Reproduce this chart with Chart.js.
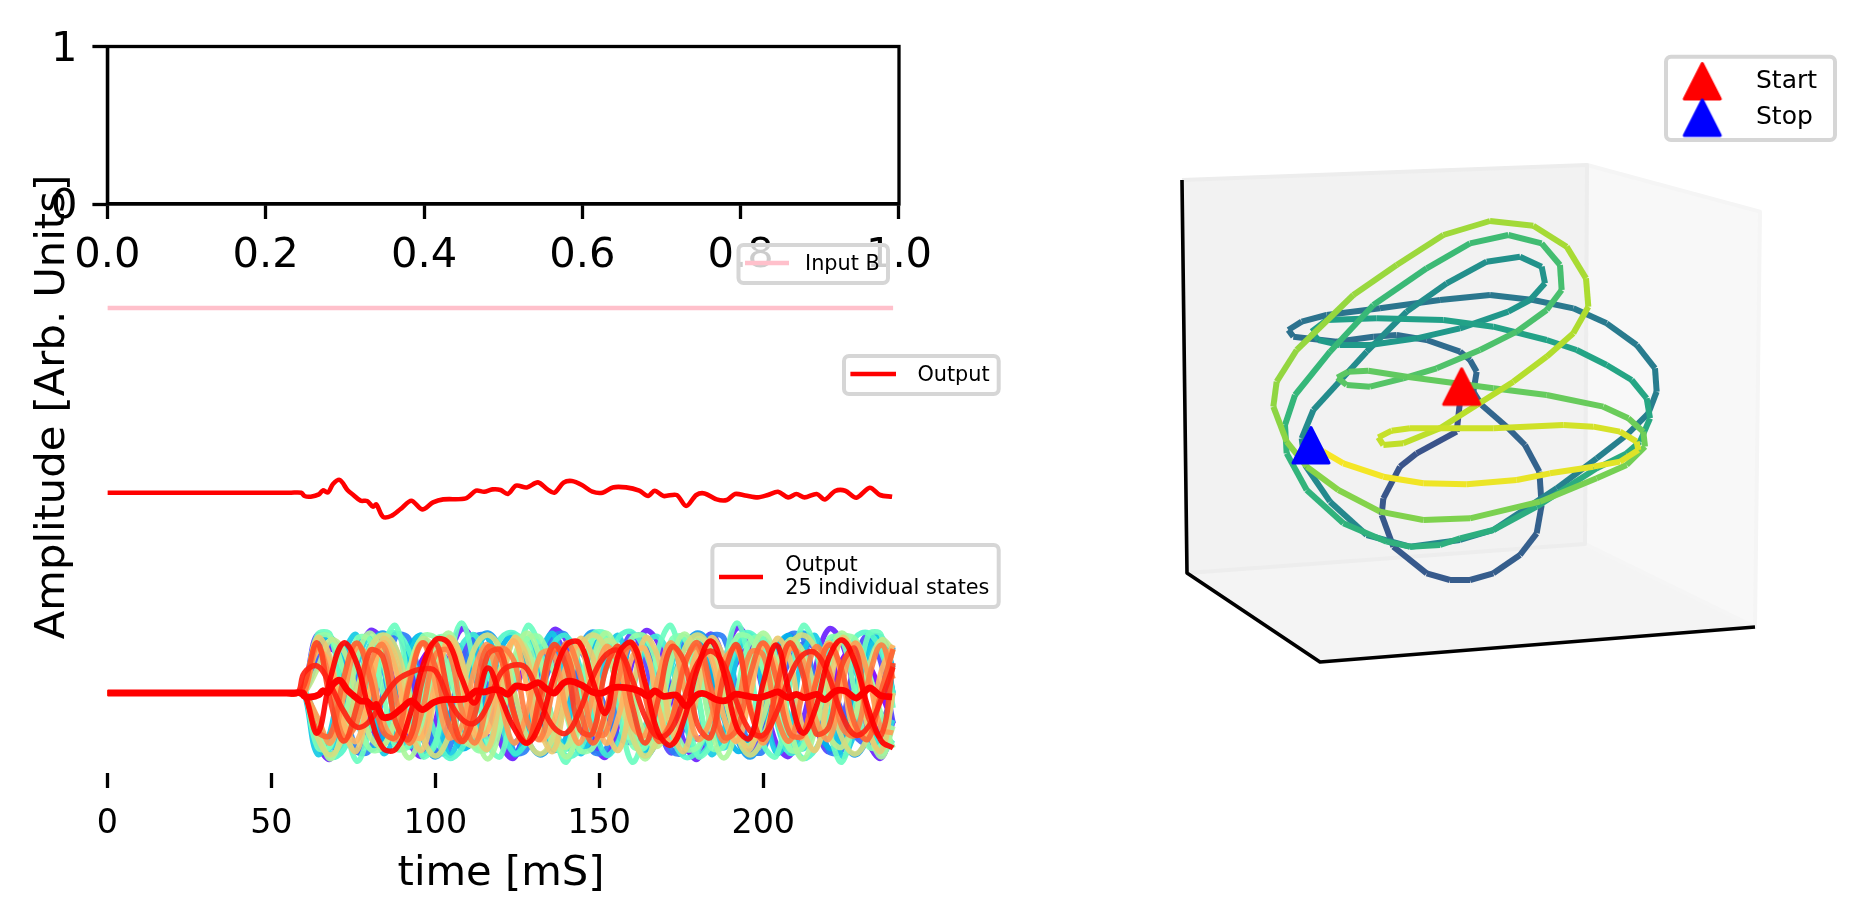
<!DOCTYPE html>
<html>
<head>
<meta charset="utf-8">
<script src="https://cdn.jsdelivr.net/npm/chart.js@4"></script>
<style>
  html, body { margin: 0; background: #fff; }
  canvas { position: absolute; left: 0; top: 0; }
</style>
</head>
<body>
<canvas id="emptyAxes" width="1876" height="924"></canvas>
<canvas id="inputPanel" width="1876" height="924"></canvas>
<canvas id="outputPanel" width="1876" height="924"></canvas>
<canvas id="statesPanel" width="1876" height="924"></canvas>
<canvas id="trajPanel" width="1876" height="924"></canvas>
<script>
// ---- data ----
const inputTime = [0, 239.6];
const inputValues = [0, 0];

const outputTime = [0, 56, 59.1, 60.1, 62, 64.5, 65.7, 67.3, 68.8, 70.9, 73.2, 75, 77.2, 79.2, 81, 82, 84, 86.5, 89.4, 92.7, 96, 99.3, 102.4, 109.3, 112.4, 114.9, 117.4, 119.9, 122.1, 124.6, 127.9, 131.3, 134.2, 136.3, 139.1, 141.6, 144.7, 147.9, 151, 154.1, 158.2, 162.2, 164.9, 166.9, 169.6, 173.6, 176.5, 179.6, 182.1, 185.8, 188.9, 191.4, 194.5, 198.3, 201.4, 204.5, 207.6, 210.1, 212.6, 216.3, 218.8, 221.9, 225, 228.4, 232.5, 235.6, 239.3];
const outputValues = [0, 0, 0, -3.3, -4, -1.7, 2.3, 0.3, 8.7, 12.7, 2.7, -2.3, -8, -8.3, -14, -11.7, -24, -23.3, -16.3, -8, -16.7, -9.7, -6.7, -5.7, 2, 1, 3.3, 2.7, -1.3, 7, 5.3, 10.3, 3.3, 0, 10, 11.7, 7.7, 1, 0, 5.3, 5.3, 2, -3.3, 2, -3.3, -2.3, -13.3, -2.3, -0.7, -6.7, -7.3, -1.3, -2.7, -4.7, -2.3, 1, -4.7, -1.3, -4.7, -1.3, -6.7, 1.7, 2, -5, 5, -2.3, -4];

const stateLead = [0, 54, 58];
const stateTime = [60, 64, 68, 72, 76, 80, 84, 88, 92, 96, 100, 104, 108, 112, 116, 120, 124, 128, 132, 136, 140, 144, 148, 152, 156, 160, 164, 168, 172, 176, 180, 184, 188, 192, 196, 200, 204, 208, 212, 216, 220, 224, 228, 232, 236, 239.6];
const state01 = [0, 30, 44, 31, 2, -32, -46, -30, -2, 33, 45, 30, -1, -31, -44, -32, 1, 30, 46, 33, 3, -30, -45, -33, 0, 32, 43, 30, -2, -33, -46, -31, 2, 31, 45, 32, 1, -30, -44, -32, -1, 33, 46, 30, 0, -31];
const state02 = [0, -50, -66, -28, 27, 62, 51, -1, -49, -63, -29, 29, 64, 49, 2, -51, -65, -26, 27, 63, 52, 0, -48, -64, -28, 30, 62, 50, -2, -50, -66, -27, 28, 65, 49, 1, -51, -63, -29, 26, 64, 50, 0, -49, -65, -28];
const state03 = [5, 58, 30, -30, -59, -31, 29, 59, 31, -28, -60, -30, 30, 58, 29, -31, -61, -29, 31, 58, 30, -30, -58, -31, 28, 59, 32, -29, -60, -30, 30, 59, 31, -30, -61, -28, 29, 58, 30, -31, -59, -30, 31, 58, 29, -30];
const state04 = [0, 32, 49, 43, 17, -17, -44, -49, -32, 1, 31, 50, 44, 16, -18, -43, -50, -31, -1, 33, 48, 43, 18, -16, -44, -49, -33, 0, 32, 50, 42, 17, -17, -45, -48, -32, 2, 31, 49, 44, 16, -18, -43, -50, -31, 0];
const state05 = [0, 56, 55, 1, -58, -57, -1, 57, 54, 0, -57, -58, 2, 55, 56, -1, -59, -56, 0, 56, 57, 1, -58, -57, 0, 54, 56, -2, -57, -59, 1, 56, 55, 0, -56, -58, -1, 57, 56, 2, -58, -57, 0, 55, 54, -1];
const state06 = [0, -45, -63, -44, -1, 45, 60, 44, 2, -44, -64, -45, 0, 46, 60, 43, -1, -45, -62, -46, 1, 44, 61, 45, 0, -43, -63, -44, 2, 45, 60, 46, -1, -46, -64, -44, 0, 43, 60, 45, 1, -45, -62, -43, 0, 46];
const state07 = [0, 45, 56, 25, -25, -56, -45, 1, 46, 57, 24, -26, -55, -46, -1, 44, 58, 26, -24, -57, -44, 0, 45, 55, 25, -25, -56, -47, 2, 46, 56, 24, -26, -58, -45, 0, 44, 57, 26, -25, -55, -46, 1, 45, 56, 25];
const state08 = [0, -61, -38, 37, 58, 1, -60, -39, 38, 57, -1, -62, -37, 39, 56, 0, -61, -38, 38, 59, 2, -60, -37, 37, 57, 0, -62, -39, 38, 56, -1, -61, -38, 36, 58, 1, -60, -38, 39, 57, 0, -63, -37, 38, 56, 0];
const state09 = [3, -28, -55, -27, 28, 55, 27, -28, -54, -29, 27, 56, 28, -27, -55, -26, 29, 54, 27, -29, -56, -28, 28, 55, 26, -27, -54, -28, 27, 56, 29, -28, -55, -27, 28, 54, 27, -26, -56, -29, 28, 55, 27, -28, -54, -27];
const state10 = [0, -27, -60, -48, 0, 48, 57, 27, -27, -61, -49, 1, 47, 58, 26, -28, -60, -48, -1, 49, 57, 27, -26, -62, -47, 0, 48, 56, 28, -27, -61, -49, 2, 47, 58, 27, -28, -60, -48, 0, 49, 57, 26, -27, -60, -47];
const state11 = [0, -42, -64, -57, -22, 22, 54, 60, 42, 1, -41, -65, -56, -23, 21, 55, 60, 43, -1, -43, -63, -57, -22, 23, 56, 61, 41, 0, -42, -64, -58, -21, 22, 54, 60, 42, 2, -41, -65, -56, -23, 22, 55, 60, 41, 0];
const state12 = [0, 58, 58, -15, -68, -35, 44, 67, 5, -63, -51, 25, 70, 25, -51, -63, 5, 67, 44, -35, -69, -15, 58, 58, -15, -69, -35, 44, 67, 5, -63, -51, 25, 70, 25, -51, -63, 5, 67, 44, -35, -69, -15, 58, 58, -15];
const state13 = [4, -54, -53, 0, 54, 53, 1, -55, -52, -1, 53, 54, 0, -53, -54, 2, 55, 52, -1, -54, -55, 0, 54, 53, 1, -52, -54, -2, 53, 55, 0, -54, -53, 1, 52, 54, -1, -55, -54, 0, 54, 53, 0, -53, -52, 1];
const state14 = [3, 55, 56, 22, -23, -56, -54, -24, 22, 56, 55, 23, -22, -55, -56, -23, 24, 54, 55, 22, -23, -57, -55, -22, 23, 55, 56, 24, -24, -55, -54, -23, 22, 56, 55, 23, -23, -56, -55, -24, 23, 55, 54, 22, -22, -55];
const state15 = [0, -33, -66, -33, 33, 60, 33, -32, -65, -34, 33, 60, 32, -33, -66, -32, 34, 60, 33, -34, -64, -33, 32, 60, 34, -33, -66, -32, 33, 59, 32, -34, -65, -33, 33, 60, 33, -32, -66, -34, 32, 60, 33, -33, -64, -33];
const state16 = [0, 24, 53, 43, 0, -43, -53, -24, 24, 54, 42, 1, -44, -52, -23, 25, 53, 43, -1, -42, -54, -24, 23, 52, 44, 0, -43, -53, -25, 24, 54, 43, 2, -44, -52, -24, 25, 53, 42, 0, -43, -54, -23, 24, 53, 44];
const state17 = [0, -44, -62, -43, 1, 44, 58, 45, -1, -43, -63, -44, 0, 45, 58, 43, 2, -45, -61, -44, -1, 43, 58, 44, 0, -44, -63, -45, 1, 44, 58, 43, -2, -43, -62, -44, 0, 46, 58, 44, 1, -45, -61, -43, 0, 44];
const state18 = [0, 55, 35, -36, -58, 1, 54, 36, -35, -57, 0, 55, 34, -35, -56, -1, 55, 35, -37, -58, 2, 54, 36, -34, -57, 0, 55, 35, -36, -58, 1, 55, 34, -35, -56, -1, 54, 36, -35, -57, 0, 55, 35, -36, -58, 0];
const state19 = [0, 42, 28, -30, -48, 2, 50, 22, -38, -44, 10, 50, 14, -42, -38, 20, 52, 6, -46, -30, 28, 48, -4, -50, -22, 36, 44, -14, -50, -12, 42, 36, -24, -48, -2, 48, 26, -32, -44, 12, 50, 16, -40, -38, 22, 48];
const state20 = [0, -24, -50, -4, 46, 30, -28, -46, 12, 50, 10, -44, -34, 24, 48, -8, -50, -18, 38, 40, -18, -50, -2, 46, 28, -32, -42, 16, 50, 4, -46, -26, 32, 44, -12, -50, -10, 44, 34, -26, -46, 8, 50, 18, -36, -40];
const state21 = [0, 46, 10, -44, -30, 28, 48, -6, -50, -18, 38, 42, -16, -50, -8, 44, 32, -28, -46, 6, 50, 20, -38, -40, 16, 50, 8, -44, -28, 30, 46, -8, -48, -16, 40, 38, -22, -48, 0, 46, 24, -34, -42, 12, 48, 14];
const state22 = [0, -38, -42, 14, 50, 16, -38, -44, 8, 50, 26, -30, -48, 0, 46, 34, -22, -50, -10, 42, 40, -14, -50, -18, 36, 46, -4, -48, -28, 28, 50, 6, -44, -36, 18, 50, 14, -40, -42, 10, 48, 22, -32, -46, 2, 44];
const state23 = [8, 50, -8, -48, -14, 42, 36, -30, -46, 12, 50, -2, -48, -22, 38, 42, -20, -50, 0, 48, 26, -36, -40, 24, 46, -12, -50, -6, 46, 30, -32, -44, 18, 48, -16, -46, 4, 50, 20, -40, -34, 28, 44, -24, -42, 30];
const state24 = [20, 27, 8, -18, -34, -28, -6, 12, 20, 24, 22, -6, -26, -30, -12, 20, 28, 24, -8, -34, -40, -18, 16, 38, 42, 14, -24, -44, -36, -4, 30, 42, 28, -10, -38, -42, -20, 16, 38, 40, 16, -22, -42, -34, -6, 26];
const state25 = [0, -40, 15, 50, 30, -20, -55, -56, -25, 25, 53, 50, 15, -10, 25, -5, -35, -50, -30, 15, 48, 50, 12, -20, 40, 50, 10, -40, -52, -25, 25, 52, 20, -35, -45, 10, 48, 0, -40, -15, 35, 53, 30, -15, -48, -55];
const stateSeries = [state01, state02, state03, state04, state05, state06, state07, state08, state09, state10, state11, state12, state13, state14, state15, state16, state17, state18, state19, state20, state21, state22, state23, state24, state25];

const xTicksTop = [0, 0.2, 0.4, 0.6, 0.8, 1];
const yTicksTop = [0, 1];
const timeTicks = [0, 50, 100, 150, 200];

// projected 3d path, picture units
const trajX = [605, 590, 470, 420, 370, 365, 400, 500, 570, 630, 700, 780, 830, 845, 838, 795, 740, 665, 640, 650, 630, 600, 500, 410, 340, 230, 100, 85, 125, 200, 360, 540, 690, 820, 940, 1040, 1130, 1185, 1190, 1165, 1100, 1010, 890, 700, 600, 450, 320, 210, 135, 125, 160, 320, 440, 560, 680, 780, 845, 855, 810, 745, 600, 470, 330, 240, 175, 155, 200, 350, 550, 700, 860, 950, 1040, 1115, 1160, 1170, 1140, 1100, 1010, 830, 700, 600, 540, 450, 380, 250, 140, 80, 75, 105, 210, 340, 500, 630, 745, 845, 900, 905, 860, 770, 660, 530, 430, 330, 260, 232, 265, 325, 440, 700, 860, 1030, 1105, 1150, 1155, 1100, 1010, 840, 630, 490, 360, 235, 140, 80, 40, 50, 110, 280, 410, 550, 690, 820, 920, 978, 985, 940, 860, 760, 650, 540, 430, 370, 355, 395, 450, 700, 910, 1000, 1080, 1130, 1135, 1080, 1000, 870, 770, 620, 490, 370, 250, 190, 152];
const trajY = [545, 680, 745, 785, 880, 930, 1025, 1105, 1125, 1125, 1105, 1050, 985, 900, 800, 720, 665, 600, 560, 500, 465, 440, 405, 390, 395, 410, 395, 375, 350, 330, 310, 285, 270, 285, 310, 355, 420, 490, 560, 625, 690, 760, 850, 975, 1005, 1025, 990, 890, 780, 700, 615, 440, 320, 235, 170, 155, 185, 235, 285, 320, 370, 400, 420, 420, 405, 380, 345, 340, 345, 365, 405, 435, 480, 525, 580, 640, 710, 745, 790, 905, 975, 1000, 1020, 1025, 1010, 955, 855, 745, 660, 570, 440, 300, 190, 115, 90, 115, 180, 255, 315, 380, 435, 490, 520, 545, 540, 518, 500, 497, 515, 550, 570, 605, 640, 680, 725, 780, 820, 890, 940, 945, 920, 855, 785, 710, 605, 530, 435, 270, 180, 90, 48, 62, 125, 220, 305, 385, 455, 530, 600, 670, 715, 720, 697, 677, 670, 670, 660, 665, 680, 710, 735, 770, 785, 805, 825, 838, 835, 815, 775, 740, 720];
const startPoint = [605, 544];
const stopPoint = [153, 720];

// box of the 3d axes, same units
const wallLeftX = [-234, 981, 975, -219, -234];
const wallLeftY = [-75, -120, 1017, 1104, -75];
const wallRightX = [981, 1500, 1485, 975, 981];
const wallRightY = [-120, 20, 1266, 1017, -120];
const floorX = [-219, 180, 1485, 975, -219];
const floorY = [1104, 1371, 1266, 1017, 1104];
const axisLinesX = [-234, -219, 180, 1485];
const axisLinesY = [-75, 1104, 1371, 1266];

// ---- helpers ----
const FONT = '"DejaVu Sans"';
const viridisStops = ['#440154', '#482878', '#3e4a89', '#31688e', '#26828e', '#1f9e89', '#35b779', '#6ece58', '#b5de2b', '#fde725'];

function hex2rgb(h) { return [1, 3, 5].map(i => parseInt(h.substr(i, 2), 16)); }

function viridis(x) {
    const p = x * (viridisStops.length - 1);
    const i = Math.min(Math.floor(p), viridisStops.length - 2);
    const a = hex2rgb(viridisStops[i]), b = hex2rgb(viridisStops[i + 1]);
    const c = a.map((v, k) => Math.round(v + (b[k] - v) * (p - i)));
    return `rgb(${c[0]},${c[1]},${c[2]})`;
}

function rainbow(x, alpha) {
    const r = Math.min(1, Math.abs(2 * x - 0.5));
    const g = Math.sin(Math.PI * x);
    const b = Math.cos(Math.PI * x / 2);
    return `rgba(${Math.round(r * 255)},${Math.round(g * 255)},${Math.round(b * 255)},${alpha})`;
}

function xy(xs, ys) { return xs.map((x, i) => ({ x: x, y: ys[i] })); }

function triangleMarker(color) {
    const c = document.createElement('canvas');
    c.width = 44; c.height = 44;
    const g = c.getContext('2d');
    g.fillStyle = color; g.strokeStyle = color;
    g.lineWidth = 3; g.lineJoin = 'round';
    g.beginPath();
    g.moveTo(22, 4.5); g.lineTo(40, 40); g.lineTo(4, 40); g.closePath();
    g.fill(); g.stroke();
    return c;
}
const redMarker = triangleMarker('#ff0000');
const blueMarker = triangleMarker('#0000ff');

// legend box and loose figure texts, matplotlib places these by hand
const extras = {
    id: 'extras',
    afterDraw(chart, args, opts) {
        const ctx = chart.ctx;
        ctx.save();
        if (opts.frame) {
            const a = chart.chartArea;
            ctx.strokeStyle = '#000'; ctx.lineWidth = 3.3;
            ctx.strokeRect(a.left, a.top, a.right - a.left, a.bottom - a.top);
        }
        (opts.legends || []).forEach(l => {
            ctx.beginPath();
            ctx.roundRect(l.box[0], l.box[1], l.box[2] - l.box[0], l.box[3] - l.box[1], 5);
            ctx.fillStyle = 'rgba(255,255,255,0.8)'; ctx.fill();
            ctx.strokeStyle = '#d6d6d6'; ctx.lineWidth = 4; ctx.stroke();
            if (l.line) {
                ctx.beginPath();
                ctx.moveTo(l.line[0], l.line[2]); ctx.lineTo(l.line[1], l.line[2]);
                ctx.strokeStyle = l.color; ctx.lineWidth = 4.4; ctx.stroke();
            }
            (l.markers || []).forEach(m => ctx.drawImage(m[0], m[1] - 22, m[2] - 22));
            ctx.fillStyle = '#000'; ctx.font = `${l.size}px ${FONT}`;
            ctx.textAlign = 'left'; ctx.textBaseline = 'alphabetic';
            l.rows.forEach(r => ctx.fillText(r[0], r[1], r[2]));
        });
        (opts.texts || []).forEach(t => {
            ctx.save();
            ctx.translate(t.x, t.y); ctx.rotate(t.rot || 0);
            ctx.fillStyle = '#000'; ctx.font = `${t.size}px ${FONT}`;
            ctx.textAlign = 'center'; ctx.textBaseline = 'alphabetic';
            ctx.fillText(t.text, 0, 0);
            ctx.restore();
        });
        ctx.restore();
    }
};

// room kept for tick labels round the plot area, [left, bottom]
function panel(id, area, room, datasets, scales, extraOpts) {
    return new Chart(document.getElementById(id), {
        type: 'scatter',
        data: { datasets: datasets },
        options: {
            responsive: false, animation: false, devicePixelRatio: 1, events: [],
            layout: { padding: { left: area[0] - room[0], top: area[1], right: 1876 - area[2], bottom: 924 - area[3] - room[1] } },
            scales: scales,
            plugins: { legend: { display: false }, tooltip: { enabled: false }, extras: extraOpts || {} }
        },
        plugins: [extras]
    });
}

function hiddenY(min, max) { return { display: false, min: min, max: max }; }
function hiddenX() { return { display: false, min: 0, max: 241.4 }; }

function lineSet(xs, ys, color, width, tension, order) {
    return {
        data: xy(xs, ys), showLine: true, borderColor: color, borderWidth: width,
        pointRadius: 0, tension: tension, order: order, borderJoinStyle: 'round', fill: false
    };
}

// ---- top empty axes ----
panel('emptyAxes', [107.4, 46.5, 899, 204], [100, 90], [], {
    x: {
        min: 0, max: 1, afterFit: s => { s.height = 90; },
        afterBuildTicks: s => { s.ticks = xTicksTop.map(v => ({ value: v })); },
        border: { color: '#000', width: 3.3 },
        grid: { drawOnChartArea: false, tickLength: 15, tickWidth: 3.3, tickColor: '#000' },
        ticks: { color: '#000', padding: 12, maxRotation: 0, autoSkip: false, font: { family: FONT, size: 41.67 }, callback: v => v.toFixed(1) }
    },
    y: {
        min: 0, max: 1, afterFit: s => { s.width = 100; },
        afterBuildTicks: s => { s.ticks = yTicksTop.map(v => ({ value: v })); },
        border: { color: '#000', width: 3.3 },
        grid: { drawOnChartArea: false, tickLength: 15, tickWidth: 3.3, tickColor: '#000' },
        ticks: { color: '#000', padding: 15, labelOffset: 3.5, autoSkip: false, font: { family: FONT, size: 41.67 }, callback: v => String(v) }
    }
}, { frame: true });

// ---- input ----
panel('inputPanel', [107.4, 258, 899, 358], [0, 0], [lineSet(inputTime, inputValues, '#ffc0cb', 4.5, 0, 1)],
    { x: hiddenX(), y: hiddenY(-50, 50) },
    { legends: [{ box: [738.5, 245, 888, 283], line: [745, 789, 263], color: '#ffc0cb', size: 20.8, rows: [['Input B', 805, 270]] }] });

// ---- output ----
panel('outputPanel', [107.4, 442.7, 899, 542.7], [0, 0], [lineSet(outputTime, outputValues, '#ff0000', 4.6, 0.3, 1)],
    { x: hiddenX(), y: hiddenY(-50, 50) },
    { legends: [{ box: [844, 356, 998.7, 394], line: [850.4, 896, 374], color: '#ff0000', size: 20.8, rows: [['Output', 917.4, 381]] }] });

// ---- output and the 25 states ----
const stateSets = stateSeries.map((vals, i) => lineSet(
    stateLead.concat(stateTime), stateLead.map(() => 0).concat(vals),
    rainbow(i / 24, 0.92), 5.4, 0.4, 30 - i));
stateSets.push(lineSet(outputTime, outputValues, '#ff0000', 6.8, 0.3, 1));

panel('statesPanel', [107.4, 613, 899, 773], [0, 90], stateSets, {
    x: {
        min: 0, max: 241.4, afterFit: s => { s.height = 90; },
        afterBuildTicks: s => { s.ticks = timeTicks.map(v => ({ value: v })); },
        border: { display: false },
        grid: { drawOnChartArea: false, tickLength: 15, tickWidth: 3.3, tickColor: '#000' },
        ticks: { color: '#000', padding: 16, maxRotation: 0, autoSkip: false, font: { family: FONT, size: 33.3 }, callback: v => String(v) }
    },
    y: hiddenY(-80, 80)
}, {
    legends: [{
        box: [712.4, 545, 998.7, 607], line: [719, 763, 577], color: '#ff0000', size: 20.8,
        rows: [['Output', 785.3, 571], ['25 individual states', 785.3, 594]]
    }],
    texts: [
        { text: 'time [mS]', x: 501, y: 885, size: 41.67 },
        { text: 'Amplitude [Arb. Units]', x: 64, y: 407, size: 41.67, rot: -Math.PI / 2 }
    ]
});

// ---- 3d path ----
const trajColors = trajX.map((v, i) => viridis(0.25 + 0.75 * i / (trajX.length - 1)));
function wall(xs, ys, fillColor, edge) {
    const d = lineSet(xs, ys, edge, 4, 0, 50);
    d.fill = 'shape'; d.backgroundColor = fillColor;
    return d;
}
const pathSet = lineSet(trajX, trajY, trajColors[0], 6, 0, 5);
pathSet.segment = { borderColor: c => trajColors[c.p0DataIndex] };

const startSet = { data: xy([startPoint[0]], [startPoint[1]]), pointStyle: redMarker, pointRadius: 20, order: 2 };
const stopSet = { data: xy([stopPoint[0]], [stopPoint[1]]), pointStyle: blueMarker, pointRadius: 20, order: 1 };

panel('trajPanel', [1170, 150, 1776, 680], [0, 0], [
    wall(wallLeftX, wallLeftY, '#f2f2f2', '#ededed'),
    wall(wallRightX, wallRightY, '#f8f8f8', '#f5f5f5'),
    wall(floorX, floorY, '#f4f4f4', '#f4f4f4'),
    lineSet(axisLinesX, axisLinesY, '#000', 3.6, 0, 10),
    pathSet, startSet, stopSet
], {
    x: { display: false, min: -270, max: 1548 },
    y: { display: false, min: -165, max: 1425, reverse: true }
}, {
    legends: [{
        box: [1666, 56.7, 1835, 140], size: 25,
        markers: [[redMarker, 1702.3, 81], [blueMarker, 1702.3, 117.5]],
        rows: [['Start', 1756, 87.7], ['Stop', 1756, 124.3]]
    }]
});
</script>
</body>
</html>
